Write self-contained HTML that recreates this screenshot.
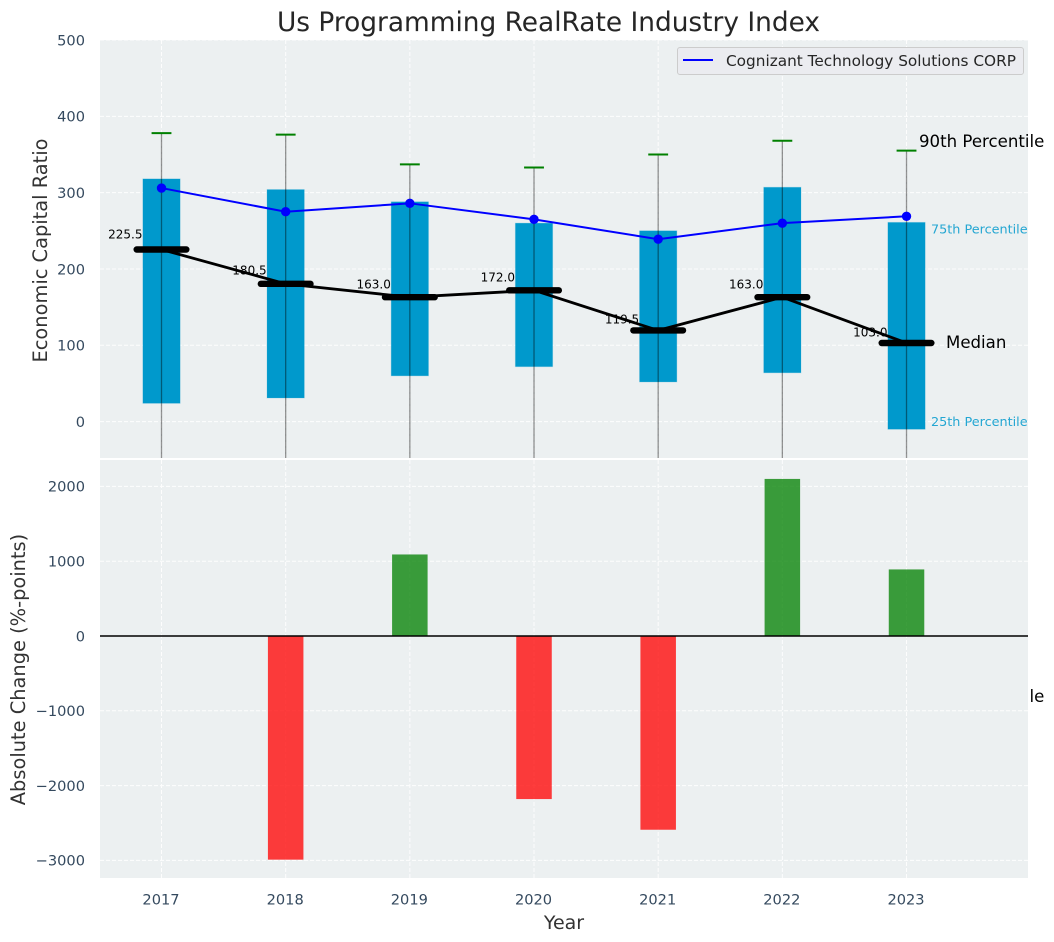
<!DOCTYPE html>
<html lang="en">
<head>
<meta charset="utf-8">
<title>Us Programming RealRate Industry Index</title>
<style>
html,body{margin:0;padding:0;background:#fff;}
svg{display:block;font-family:"DejaVu Sans","Liberation Sans",sans-serif;}
</style>
</head>
<body>
<svg id="chart" xmlns="http://www.w3.org/2000/svg" width="1054" height="942" viewBox="0 0 1054 942">
<defs>
<clipPath id="top-clip"><rect x="100" y="40" width="928" height="418"/></clipPath>
<clipPath id="bottom-clip"><rect x="100" y="460" width="928" height="418"/></clipPath>
</defs>
</svg>
<script>
const years = [2017, 2018, 2019, 2020, 2021, 2022, 2023];
const p90 = [378, 376, 337, 333, 350, 368, 355];
const p75 = [318, 304, 288, 260, 250, 307, 261];
const medians = [225.5, 180.5, 163.0, 172.0, 119.5, 163.0, 103.0];
const p25 = [24, 31, 60, 72, 52, 64, -10];
const p10 = [-120, -110, -100, -105, -110, -100, -130];
const companyValues = [306, 275, 286, 265, 239, 260, 269];
const changeYears = [2018, 2019, 2020, 2021, 2022, 2023];
const changes = [-2990, 1090, -2180, -2590, 2100, 890];
const topTicks = [0, 100, 200, 300, 400, 500];
const topTickLabels = ['0', '100', '200', '300', '400', '500'];
const bottomTicks = [-3000, -2000, -1000, 0, 1000, 2000];
const bottomTickLabels = ['\u22123000', '\u22122000', '\u22121000', '0', '1000', '2000'];

const svg = document.getElementById('chart');
const NS = 'http://www.w3.org/2000/svg';
const L = 100, R = 1028, TT = 40, TB = 458, BT = 460, BB = 878;
const tickColor = '#34495e', labelColor = '#333333';

function xScale(year) { return 161.5 + (year - 2017) * 124.17; }
function xSpan(years) { return years * 124.17; }
function yTop(v) { return 421.6 - v * 0.7632; }
function yBottom(v) { return 636 - v * 0.0748; }

function make(parent, tag, attrs, text) {
  const el = document.createElementNS(NS, tag);
  for (const k in attrs) el.setAttribute(k, attrs[k]);
  if (text !== undefined) el.textContent = text;
  parent.appendChild(el);
  return el;
}
function polyPoints(xs, ys, fx, fy) {
  return xs.map((x, i) => fx(x).toFixed(2) + ',' + fy(ys[i]).toFixed(2)).join(' ');
}

/* ---------- title ---------- */
const title = make(svg, 'text', {x: 548.5, y: 31, 'text-anchor': 'middle', 'font-size': 26.4, fill: '#262626'}, 'Us Programming RealRate Industry Index');



/* ---------- top panel ---------- */
const topBg = make(svg, 'rect', {x: L, y: TT, width: R - L, height: TB - TT, fill: '#ecf0f1'});



const topGrid = make(svg, 'g', {stroke: '#ffffff', 'stroke-width': 1, 'stroke-dasharray': '4,2', opacity: 0.9});


topTicks.forEach(function (t) {
  const g = make(topGrid, 'line', {x1: L, x2: R, y1: yTop(t), y2: yTop(t)});
  
  
});
years.forEach(function (y) {
  const g = make(topGrid, 'line', {x1: xScale(y), x2: xScale(y), y1: TT, y2: TB});
  
  
});

const boxes = make(svg, 'g', {'clip-path': 'url(#top-clip)'});


years.forEach(function (y, i) {
  const b = make(boxes, 'rect', {
    x: xScale(y) - xSpan(0.15), width: xSpan(0.3),
    y: yTop(p75[i]), height: yTop(p25[i]) - yTop(p75[i]),
    fill: '#0099cc', stroke: '#0099cc', 'stroke-opacity': 0.2, 'stroke-width': 1
  });
  
  
});

const whiskers = make(svg, 'g', {'clip-path': 'url(#top-clip)'});


years.forEach(function (y, i) {
  const w = make(whiskers, 'line', {
    x1: xScale(y), x2: xScale(y), y1: yTop(p90[i]), y2: yTop(p10[i]),
    stroke: '#000000', 'stroke-opacity': 0.42, 'stroke-width': 1.3
  });
  
  
  const c = make(whiskers, 'line', {
    x1: xScale(y) - xSpan(0.08), x2: xScale(y) + xSpan(0.08), y1: yTop(p90[i]), y2: yTop(p90[i]),
    stroke: '#008000', 'stroke-width': 2
  });
  
  
});

const medianLine = make(svg, 'polyline', {points: polyPoints(years, medians, xScale, yTop), fill: 'none', stroke: '#000000', 'stroke-width': 2.8});



years.forEach(function (y, i) {
  const m = make(svg, 'line', {
    x1: xScale(y) - xSpan(0.2), x2: xScale(y) + xSpan(0.2), y1: yTop(medians[i]), y2: yTop(medians[i]),
    stroke: '#000000', 'stroke-width': 6.4, 'stroke-linecap': 'round'
  });
  
  
  const t = make(svg, 'text', {
    x: xScale(y) - 19, y: yTop(medians[i] * 1.05) - 2.4, 'text-anchor': 'end', 'font-size': 12, fill: '#000000'
  }, medians[i].toFixed(1));
  
  
});

const companyLine = make(svg, 'polyline', {points: polyPoints(years, companyValues, xScale, yTop), fill: 'none', stroke: '#0000ff', 'stroke-width': 2});


years.forEach(function (y, i) {
  const d = make(svg, 'circle', {cx: xScale(y), cy: yTop(companyValues[i]), r: 4.7, fill: '#0000ff'});
  
  
});

/* ---------- percentile annotations ---------- */
const ann90 = make(svg, 'text', {x: 919, y: 147, 'font-size': 16.6, fill: '#000000'}, '90th Percentile');


const ann75 = make(svg, 'text', {x: 931, y: 233.5, 'font-size': 12.8, fill: '#0099cc', 'fill-opacity': 0.85}, '75th Percentile');


const annMedian = make(svg, 'text', {x: 946, y: 348, 'font-size': 16.6, fill: '#000000'}, 'Median');


const ann25 = make(svg, 'text', {x: 931, y: 426, 'font-size': 12.8, fill: '#0099cc', 'fill-opacity': 0.85}, '25th Percentile');


const ann10 = make(svg, 'text', {x: 919, y: 702, 'font-size': 16.6, fill: '#000000'}, '10th Percentile');



/* ---------- legend ---------- */
const legend = make(svg, 'g', {});


const legendBox = make(legend, 'rect', {x: 677.5, y: 47.5, width: 346, height: 27, rx: 2.5, fill: '#ebecf0', stroke: '#cccccc', 'stroke-width': 1});


const legendLine = make(legend, 'line', {x1: 683, x2: 713, y1: 60, y2: 60, stroke: '#0000ff', 'stroke-width': 2});


const legendText = make(legend, 'text', {x: 726, y: 66, 'font-size': 15.3, fill: '#262626'}, 'Cognizant Technology Solutions CORP');



/* ---------- bottom panel ---------- */
const bottomBg = make(svg, 'rect', {x: L, y: BT, width: R - L, height: BB - BT, fill: '#ecf0f1'});



const bottomGrid = make(svg, 'g', {stroke: '#ffffff', 'stroke-width': 1, 'stroke-dasharray': '4,2', opacity: 0.9});


bottomTicks.forEach(function (t) {
  const g = make(bottomGrid, 'line', {x1: L, x2: R, y1: yBottom(t), y2: yBottom(t)});
  
  
});
years.forEach(function (y) {
  const g = make(bottomGrid, 'line', {x1: xScale(y), x2: xScale(y), y1: BT, y2: BB});
  
  
});

const bars = make(svg, 'g', {'clip-path': 'url(#bottom-clip)'});


changeYears.forEach(function (y, i) {
  const v = changes[i];
  const b = make(bars, 'rect', {
    x: xScale(y) - xSpan(0.143), width: xSpan(0.286),
    y: Math.min(yBottom(v), yBottom(0)), height: Math.abs(yBottom(v) - yBottom(0)),
    fill: v >= 0 ? '#008000' : '#ff0000', 'fill-opacity': 0.76
  });
  
  
});

const zeroLine = make(svg, 'line', {x1: L, x2: R, y1: yBottom(0), y2: yBottom(0), stroke: '#000000', 'stroke-width': 1.5});



/* ---------- axes text ---------- */
topTicks.forEach(function (t, i) {
  const l = make(svg, 'text', {x: 85, y: yTop(t) + 5.3, 'text-anchor': 'end', 'font-size': 14.6, fill: tickColor}, topTickLabels[i]);
  
  
});
bottomTicks.forEach(function (t, i) {
  const l = make(svg, 'text', {x: 85, y: yBottom(t) + 5.3, 'text-anchor': 'end', 'font-size': 14.6, fill: tickColor}, bottomTickLabels[i]);
  
  
});
years.forEach(function (y) {
  const l = make(svg, 'text', {x: xScale(y) - 0.5, y: 904.5, 'text-anchor': 'middle', 'font-size': 14.6, fill: tickColor}, String(y));
  
  
});
const topYTitle = make(svg, 'text', {transform: 'translate(47,250.5) rotate(-90)', 'text-anchor': 'middle', 'font-size': 19.4, fill: labelColor}, 'Economic Capital Ratio');


const bottomYTitle = make(svg, 'text', {transform: 'translate(25,669.5) rotate(-90)', 'text-anchor': 'middle', 'font-size': 19.4, fill: labelColor}, 'Absolute Change (%-points)');


const xTitle = make(svg, 'text', {x: 564, y: 929, 'text-anchor': 'middle', 'font-size': 19, fill: labelColor}, 'Year');


</script>
</body>
</html>
